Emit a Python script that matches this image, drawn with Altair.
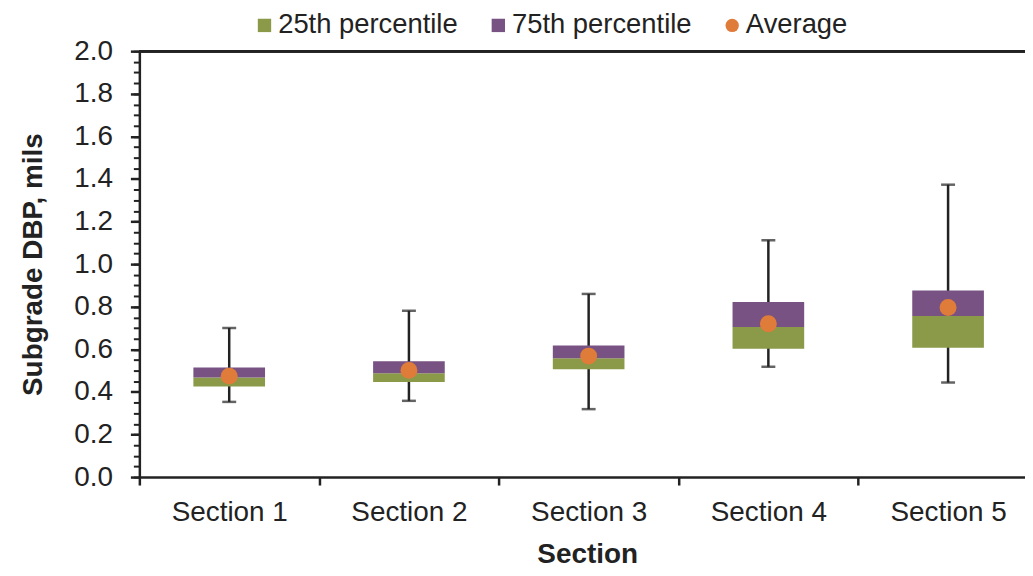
import json
import altair as alt
import pandas as pd

# ---- data ----
sections = ["Section 1", "Section 2", "Section 3", "Section 4", "Section 5"]
whisker_min = [0.353, 0.358, 0.319, 0.518, 0.444]
p25 = [0.425, 0.446, 0.506, 0.602, 0.607]
median = [0.467, 0.487, 0.558, 0.705, 0.756]
p75 = [0.514, 0.544, 0.618, 0.822, 0.876]
whisker_max = [0.700, 0.781, 0.860, 1.112, 1.373]
average = [0.474, 0.501, 0.568, 0.720, 0.796]

series_names = ["25th percentile", "75th percentile", "Average"]
series_colors = ["#8A9A48", "#775282", "#E07C39"]
series_shapes = ["square", "square", "circle"]

y_major_ticks = [0.0, 0.2, 0.4, 0.6, 0.8, 1.0, 1.2, 1.4, 1.6, 1.8, 2.0]
y_minor_ticks = [round(i * 0.05, 2) for i in range(41)]
x_boundaries = [0, 1, 2, 3, 4]

FONT = "Liberation Sans"
INK = "#222222"

# ---- tables ----
pos = [i + 0.5 for i in range(len(sections))]
stats = pd.DataFrame({"section": sections, "pos": pos,
                      "wmin": whisker_min, "wmax": whisker_max})
caps = pd.DataFrame({"pos": pos + pos, "val": whisker_min + whisker_max})
boxes = pd.DataFrame({
    "pos": pos + pos,
    "series": [series_names[0]] * 5 + [series_names[1]] * 5,
    "y0": p25 + median,
    "y1": median + p75,
})
avg_df = pd.DataFrame({"pos": pos, "avg": average, "series": [series_names[2]] * 5})

PLOT_W = 890
UNIT = 180.6
x_scale = alt.Scale(domain=[0, PLOT_W / UNIT], nice=False, zero=False, padding=0)
y_scale = alt.Scale(domain=[0, 2], nice=False, padding=0)

x_axis = alt.Axis(
    values=x_boundaries,
    labelExpr=json.dumps(sections) + "[datum.value]",
    labelOffset=UNIT / 2, labelFlush=False, labelOverlap=False,
    tickSize=8, tickWidth=2.5, tickColor=INK,
    domainColor=INK, domainWidth=2.5,
    labelFont=FONT, labelFontSize=28, labelColor=INK, labelPadding=14,
    title="Section", titleFont=FONT, titleFontSize=28, titleFontWeight="bold",
    titleColor=INK, titlePadding=14, titleX=450, grid=False, orient="bottom",
)
y_major_axis = alt.Axis(
    values=y_major_ticks, format=".1f", orient="left",
    tickSize=9, tickWidth=2.5, tickColor=INK,
    domainColor=INK, domainWidth=2.5,
    labelFont=FONT, labelFontSize=28, labelColor=INK, labelPadding=18,
    title="Subgrade DBP, mils", titleFont=FONT, titleFontSize=28,
    titleFontWeight="bold", titleColor=INK, titlePadding=26, grid=False,
)
y_minor_axis = alt.Axis(
    values=y_minor_ticks, orient="left", labels=False, domain=False,
    tickSize=6, tickWidth=2, tickColor=INK, title="", grid=False,
)

color_scale = alt.Scale(domain=series_names, range=series_colors)
shape_scale = alt.Scale(domain=series_names, range=series_shapes)
legend = alt.Legend(
    title="", orient="none", legendX=112, legendY=-40, direction="horizontal",
    symbolSize=180, symbolStrokeWidth=0, labelFont=FONT, labelFontSize=27.5,
    labelColor=INK, labelOffset=0, columnPadding=27, padding=0, labelLimit=400,
)

def xenc():
    return alt.X("pos:Q", scale=x_scale, axis=x_axis)

whiskers = alt.Chart(stats).mark_rule(color=INK, strokeWidth=2.5).encode(
    x=xenc(),
    y=alt.Y("wmin:Q", scale=y_scale, axis=y_minor_axis),
    y2="wmax:Q",
)
cap_marks = alt.Chart(caps).mark_tick(
    orient="horizontal", size=14, thickness=2.5, color=INK
).encode(
    x=xenc(),
    y=alt.Y("val:Q", scale=y_scale, axis=None),
)
bars = alt.Chart(boxes).mark_bar(size=72).encode(
    x=xenc(),
    y=alt.Y("y0:Q", scale=y_scale, axis=y_major_axis),
    y2="y1:Q",
    color=alt.Color("series:N", scale=color_scale, legend=legend),
)
points = alt.Chart(avg_df).mark_point(filled=True, size=290, opacity=1).encode(
    x=xenc(),
    y=alt.Y("avg:Q", scale=y_scale, axis=None),
    color=alt.Color("series:N", scale=color_scale, legend=legend),
    shape=alt.Shape("series:N", scale=shape_scale, legend=legend),
)
top_line = alt.Chart(stats).mark_rule(color=INK, strokeWidth=2.5).encode(
    y=alt.YDatum(2.0, axis=None),
)

chart = (
    alt.layer(whiskers, cap_marks, bars, points, top_line)
    .resolve_axis(y="independent")
    .properties(
        width=PLOT_W, height=428,
        autosize=alt.AutoSizeParams(type="none"),
        padding={"left": 132, "top": 42, "right": 0, "bottom": 90},
        background="white",
    )
    .configure_view(strokeWidth=0)
)

chart.save("out.html", embed_options={"renderer": "svg", "actions": False})
